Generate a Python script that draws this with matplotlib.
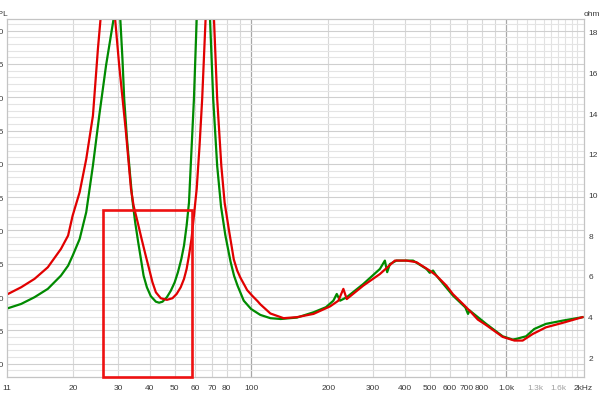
import matplotlib
matplotlib.use("Agg")
import matplotlib.pyplot as plt
from matplotlib.patches import Rectangle

# impedance curves (Hz, ohm)
red_hz = [11.1, 12.5, 14.1, 15.9, 17.9, 19.1, 19.9, 21.2, 22.5, 23.9, 25.0, 25.6,
          27.3, 29.2, 30.3, 32.2, 33.7, 34.5, 35.8, 37.1, 38.5, 39.7, 40.9, 42.2,
          44.1, 46.6, 49.0, 50.9, 52.8, 54.4, 55.7, 56.9, 58.2, 59.5, 61.0, 62.6,
          64.1, 66.1, 68.6, 71.3, 73.4, 76.2, 78.5, 81.5, 85.3, 88.0, 90.6,
          94.8, 96.2, 100.6, 105.8, 108.4, 118.7, 133.7, 150.8, 175.2, 203.5, 219.3,
          229.4, 236.5, 274.6, 319.1, 365.2, 405.7, 444.0, 500.0, 531.5, 581.6,
          617.0, 675.0, 717.0, 772.5, 833.0, 967.0, 1075, 1158, 1267, 1429, 1661, 1988]
red_ohm = [5.11, 5.44, 5.85, 6.42, 7.32, 7.98, 8.96, 10.11, 11.74, 13.87, 17.15, 18.62,
           26.0, 18.62, 16.33, 13.06, 10.27, 9.45, 8.63, 7.81, 6.99, 6.34, 5.69, 5.19,
           4.90, 4.82, 4.90, 5.11, 5.44, 5.85, 6.34, 7.0, 7.81, 8.96, 10.27, 12.4,
           14.7, 18.62, 26.0, 18.62, 14.7, 11.4, 9.6, 8.3, 6.8, 6.25, 5.9,
           5.45, 5.3, 5.03, 4.75, 4.6, 4.15, 3.92, 3.97, 4.13, 4.5, 4.78,
           5.36, 4.86, 5.52, 6.09, 6.75, 6.75, 6.67, 6.26, 6.01, 5.52,
           5.1, 4.62, 4.29, 3.85, 3.58, 3.0, 2.82, 2.82, 3.14, 3.47, 3.69, 3.97]

green_hz = [11.1, 12.5, 14.1, 15.9, 17.9, 19.1, 19.9, 21.2, 22.5, 23.9, 25.3, 26.9,
            28.8, 29.7, 30.6, 31.2, 31.7, 32.5, 33.4, 34.1, 35.0, 35.97, 36.86, 37.76,
            38.9, 40.3, 42.2, 43.45, 44.8, 46.6, 48.3, 50.0, 51.5, 53.1, 54.4, 55.7,
            56.9, 57.8, 59.5, 61.0, 64.8, 68.8, 70.8, 73.4, 76.0, 79.0, 82.8, 85.5, 88.2,
            93.3, 99.7, 108.4, 118.7, 130.3, 150.8, 175.2, 196.0, 209.6, 216.1, 222.7,
            236.5, 274.6, 319.1, 333.7, 340.7, 349.1, 370.8, 430.5, 485.7, 500.4,
            515.4, 531.5, 617.0, 690.0, 707.0, 717.0, 833.0, 967.0, 1058, 1091, 1194,
            1286, 1429, 1661, 1988]
green_ohm = [4.41, 4.62, 4.95, 5.36, 6.01, 6.50, 6.99, 7.81, 9.13, 11.42, 13.87, 16.33,
             18.62, 26.0, 18.62, 16.66, 14.69, 12.73, 11.01, 9.78, 8.63, 7.65, 6.83, 6.01,
             5.44, 5.00, 4.73, 4.68, 4.73, 4.95, 5.27, 5.68, 6.18, 6.83, 7.49, 8.47,
             9.6, 11.4, 14.7, 18.62, 26.0, 18.62, 14.7, 11.4, 9.4, 8.0, 6.7, 6.0, 5.52,
             4.78, 4.37, 4.08, 3.92, 3.88, 3.95, 4.21, 4.46, 4.78, 5.11, 4.78,
             4.95, 5.60, 6.34, 6.75, 6.18, 6.58, 6.75, 6.75, 6.34, 6.15,
             6.26, 6.01, 5.03, 4.45, 4.13, 4.3, 3.64, 3.03, 2.87, 2.90, 3.03,
             3.39, 3.64, 3.80, 3.97]

# marked region
box_lo_hz, box_hi_hz, box_top_ohm = 26.1, 58.3, 9.24

x_ticks = [11, 20, 30, 40, 50, 60, 70, 80, 100, 200, 300, 400, 500, 600, 700, 800,
           1000, 1300, 1600, 2000]
x_labels = ["11", "20", "30", "40", "50", "60", "70", "80", "100", "200", "300", "400",
            "500", "600", "700", "800", "1.0k", "1.3k", "1.6k", "2kHz"]
x_grid = ([20, 30, 40, 50, 60, 70, 80, 90] + [200, 300, 400, 500, 600, 700, 800, 900]
          + [1100, 1200, 1300, 1400, 1500, 1600, 1700, 1800, 1900])
spl_ticks = [40, 45, 50, 55, 60, 65, 70, 75, 80, 85, 90]
ohm_ticks = [2, 4, 6, 8, 10, 12, 14, 16, 18]

RED = "#e10000"
GREEN = "#008a00"
TXT = "#3a3a3a"
FS = 6

plt.rcParams["font.family"] = ["Liberation Sans", "DejaVu Sans"]

fig = plt.figure(figsize=(6.0, 4.06), dpi=100)
ax = fig.add_axes([7 / 600, 1 - 378 / 406, 577 / 600, 358 / 406])
ax.set_xscale("log")
ax.set_xlim(11.1, 2015)
ax.set_ylim(38.05, 91.75)

# grid
ax.set_yticks(spl_ticks)
ax.set_yticks(range(38, 92), minor=True)
ax.grid(which="minor", axis="y", color="#e4e4e4", lw=0.8)
ax.grid(which="major", axis="y", color="#cfcfcf", lw=0.8)
for f in x_grid:
    ax.axvline(f, color="#d8d8d8" if f < 1000 else "#e2e2e2", lw=0.8, zorder=0)
for f in (100, 1000):
    ax.axvline(f, color="#a8a8a8", lw=0.9, zorder=0)

ax.set_xticks(x_ticks)
ax.set_xticklabels(x_labels)
ax.xaxis.set_minor_locator(plt.NullLocator())
ax.set_yticklabels([str(v) for v in spl_ticks])
ax.tick_params(axis="both", which="both", length=0, labelsize=FS, colors=TXT)
ax.tick_params(axis="x", pad=5)
ax.tick_params(axis="y", pad=2)
for lab in ax.get_xticklabels():
    if lab.get_text() in ("1.3k", "1.6k"):
        lab.set_color("#a0a0a0")

ax2 = ax.twinx()
ax2.set_ylim(1.03, 18.62)
ax2.set_yticks(ohm_ticks)
ax2.tick_params(axis="y", length=0, labelsize=FS, colors=TXT, pad=3)

ax2.plot(green_hz, green_ohm, color=GREEN, lw=1.6, solid_joinstyle="round")
ax2.plot(red_hz, red_ohm, color=RED, lw=1.6, solid_joinstyle="round")
ax2.add_patch(Rectangle((box_lo_hz, 1.03), box_hi_hz - box_lo_hz, box_top_ohm - 1.03,
                        fill=False, ec="#ee1111", lw=1.9, clip_on=False, zorder=5))

for a in (ax, ax2):
    for s in a.spines.values():
        s.set_color("#c4c4c4")
        s.set_linewidth(0.8)

fig.text(8 / 600, 1 - 14 / 406, "SPL", ha="right", va="center", fontsize=FS, color=TXT)
fig.text(584 / 600, 1 - 14 / 406, "ohm", ha="left", va="center", fontsize=FS, color=TXT)

fig.savefig("out.png", dpi=100)
